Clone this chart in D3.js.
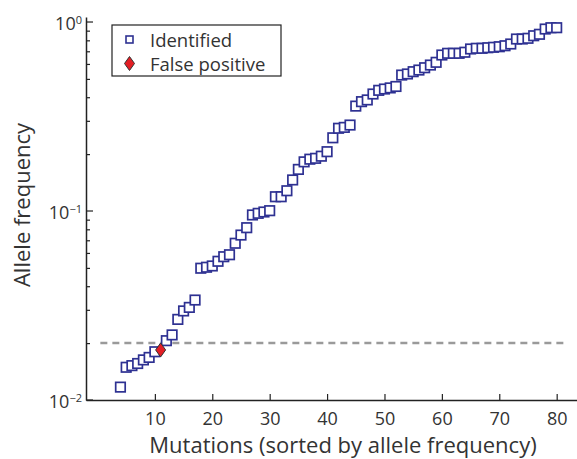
<!DOCTYPE html>
<html>
<head>
<meta charset="utf-8">
<script src="https://cdn.jsdelivr.net/npm/d3@7"></script>
<style>
  body { margin: 0; background: #fff; }
  svg text { font-family: "Open Sans", "Noto Sans", sans-serif; fill: #333; }
</style>
</head>
<body>
<div class="chart"></div>
<script>
// mutations ranked by allele frequency (rank 11 is the false positive)
const identifiedRank = [4,5,6,7,8,9,10,12,13,14,15,16,17,18,19,20,21,22,23,24,25,26,27,28,29,30,
    31,32,33,34,35,36,37,38,39,40,41,42,43,44,45,46,47,48,49,50,51,52,53,54,55,56,57,58,59,60,
    61,62,63,64,65,66,67,68,69,70,71,72,73,74,75,76,77,78,79,80];
const identifiedFreq = [0.0117,0.0149,0.0152,0.0156,0.0163,0.0168,0.0180,
    0.0206,0.0221,0.0267,0.0296,0.0309,0.0338,
    0.0498,0.0504,0.0512,0.0542,0.0573,0.0587,0.0675,0.0746,0.0816,0.0953,0.0972,0.0988,0.1004,
    0.119,0.119,0.128,0.146,0.166,0.182,0.188,0.190,0.195,0.206,0.244,0.274,0.277,0.285,
    0.359,0.379,0.387,0.416,0.435,0.442,0.448,0.456,0.524,0.531,0.546,0.557,0.573,0.592,0.612,
    0.669,0.683,0.683,0.683,0.692,0.720,0.726,0.726,0.731,0.735,0.740,0.749,0.765,
    0.813,0.813,0.820,0.846,0.861,0.918,0.933,0.933];
const falseRank = [11];
const falseFreq = [0.0184];
const thresholdFreq = 0.02;
const thresholdSpan = [0.5, 82];
const xTicks = [10,20,30,40,50,60,70,80];
const yMajor = [0.01, 0.1, 1];
const yMajorExp = ["\u22122", "\u22121", "0"];
const legendLabels = ["Identified", "False positive"];

const width = 577, height = 459;
const svg = d3.select(".chart").append("svg").attr("width", width).attr("height", height);

const x = d3.scaleLinear().domain([-2, 85]).range([86, 86 + 87*5.74]);
const y = d3.scaleLog().domain([0.01, 1.063]).range([400, 17]);

const axisColor = "#222";

// threshold line
svg.append("line")
    .attr("x1", x(thresholdSpan[0])).attr("x2", x(thresholdSpan[1]))
    .attr("y1", y(thresholdFreq)).attr("y2", y(thresholdFreq))
    .attr("stroke", "#9a9a9a").attr("stroke-width", 2.5)
    .attr("stroke-dasharray", "7,5");

// x axis
const xAxis = d3.axisBottom(x).tickValues(xTicks).tickSizeInner(-6).tickSizeOuter(0).tickPadding(12);
const gx = svg.append("g").attr("transform", "translate(0,400)").call(xAxis);
gx.select(".domain").attr("stroke", axisColor).attr("stroke-width", 1.5);
gx.selectAll(".tick line").attr("stroke", axisColor).attr("stroke-width", 1.2);
gx.selectAll(".tick text").style("font-size", "18px").attr("fill", "#333");

// y axis with log minor ticks
const minor = y.ticks().filter(v => yMajor.indexOf(v) < 0 && v <= 1);
const yAxis = d3.axisLeft(y).tickValues(minor).tickSizeInner(-4).tickSizeOuter(0).tickFormat("");
const gy = svg.append("g").attr("transform", "translate(86,0)").call(yAxis);
gy.select(".domain").attr("stroke", axisColor).attr("stroke-width", 1.5);
gy.selectAll(".tick line").attr("stroke", axisColor).attr("stroke-width", 1.2);

const major = svg.append("g").selectAll("g").data(yMajor).join("g")
    .attr("transform", d => `translate(86,${y(d)})`);
major.append("line").attr("x1", 0).attr("x2", 7).attr("stroke", axisColor).attr("stroke-width", 1.2);
const lab = major.append("text").attr("x", -4).attr("dy", "0.45em")
    .style("text-anchor", "end").style("font-size", "18px");
lab.append("tspan").text("10");
lab.append("tspan").attr("dy", "-0.6em").style("font-size", "11px").text((d, i) => yMajorExp[i]);

// axis titles
svg.append("text").attr("x", 343).attr("y", 453).style("text-anchor", "middle")
    .style("font-size", "22px").text("Mutations (sorted by allele frequency)");
svg.append("text").attr("transform", "translate(30,205) rotate(-90)").style("text-anchor", "middle")
    .style("font-size", "22px").text("Allele frequency");

// data
const squareSize = 9.5;
svg.append("g").selectAll("rect").data(identifiedRank).join("rect")
    .attr("x", d => x(d) - squareSize/2)
    .attr("y", (d, i) => y(identifiedFreq[i]) - squareSize/2)
    .attr("width", squareSize).attr("height", squareSize)
    .attr("fill", "#fff").attr("stroke", "#2e3192").attr("stroke-width", 1.7);

const diamond = (cx, cy) => `M${cx},${cy-7}L${cx+5},${cy}L${cx},${cy+7}L${cx-5},${cy}Z`;
svg.append("g").selectAll("path").data(falseRank).join("path")
    .attr("d", (d, i) => diamond(x(d), y(falseFreq[i])))
    .attr("fill", "#e31e24").attr("stroke", "#333").attr("stroke-width", 1);

// legend
const lg = svg.append("g").attr("transform", "translate(112,25)");
lg.append("rect").attr("width", 169).attr("height", 51)
    .attr("fill", "#fff").attr("stroke", "#222").attr("stroke-width", 1.2);
lg.append("rect").attr("x", 14).attr("y", 11).attr("width", 7).attr("height", 7)
    .attr("fill", "#fff").attr("stroke", "#2e3192").attr("stroke-width", 1.6);
lg.append("path").attr("d", diamond(17.5, 38.5))
    .attr("fill", "#e31e24").attr("stroke", "#333").attr("stroke-width", 1);
lg.selectAll("text.leg").data(legendLabels).join("text").attr("class", "leg")
    .attr("x", 38).attr("y", (d, i) => 15 + i*24).attr("dy", "0.36em")
    .style("font-size", "18.5px").text(d => d);
</script>
</body>
</html>
